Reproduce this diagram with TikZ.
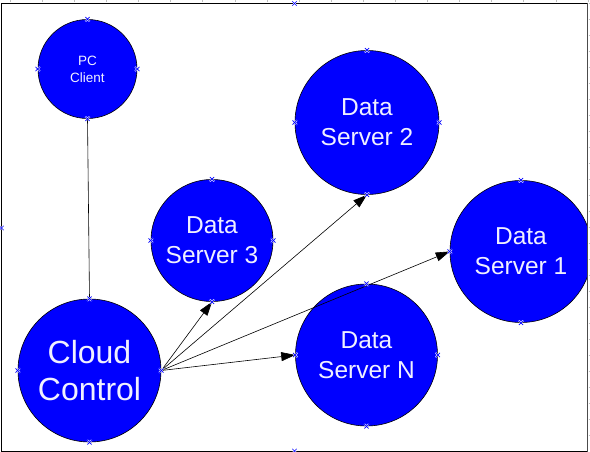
\documentclass[tikz,border=0pt]{standalone}
\usepackage{fontspec}
\setmainfont{Liberation Sans}
\usetikzlibrary{arrows.meta,calc}
\definecolor{nodeblue}{RGB}{0,0,255}
\definecolor{txt}{RGB}{240,240,255}
\tikzset{
  srv/.style={circle, draw=black, line width=0.6pt, fill=nodeblue, text=txt, inner sep=0pt, align=center},
  conn/.style={line width=0.6pt, draw=black},
  arr/.style={conn, -{Triangle[length=14pt,width=9pt]}},
  cpt/.style={draw=blue, line width=0.7pt},
  tick/.style={draw=black!25, line width=0.4pt}
}
\newcommand{\cmark}[1]{\draw[white, line width=1.6pt] ($(#1)+(-2.2,-2.2)$) -- ($(#1)+(2.2,2.2)$) ($(#1)+(-2.2,2.2)$) -- ($(#1)+(2.2,-2.2)$);
  \draw[cpt] ($(#1)+(-2.2,-2.2)$) -- ($(#1)+(2.2,2.2)$) ($(#1)+(-2.2,2.2)$) -- ($(#1)+(2.2,-2.2)$);}
\begin{document}
\begin{tikzpicture}[x=1pt,y=-1pt]
\useasboundingbox (0,0) rectangle (590,452);
\fill[white] (0,0) rectangle (590,452);
% ruler ticks
\foreach \i in {0,...,18} { \draw[tick] (10+32.1*\i,0) -- (10+32.1*\i,2.2); }
% frame
\coordinate (ftl) at (1.5,3.5);
\coordinate (ftr) at (587.5,3.5);
\coordinate (fbl) at (1.5,451);
\coordinate (fbr) at (587.5,451);
\draw[line width=0.9pt] (ftr) -- (ftl) -- (fbl) -- (fbr);

% nodes
\node[srv, minimum size=99pt, font=\fontsize{13.5}{17}\selectfont] (pc) at (87.5,69) {PC\\Client};
\node[srv, minimum size=144pt, font=\fontsize{24.5}{30}\selectfont] (ds2) at (367,122.5) {Data\\Server 2};
\node[srv, minimum size=122pt, font=\fontsize{24.5}{30}\selectfont] (ds3) at (212,240.5) {Data\\Server 3};
\node[srv, minimum size=142pt, font=\fontsize{24.5}{30}\selectfont] (ds1) at (521,251.5) {Data\\Server 1};
\node[srv, minimum size=142pt, font=\fontsize{24.5}{30}\selectfont] (dsn) at (366.5,355) {Data\\Server N};
\node[srv, minimum size=143pt, font=\fontsize{32}{37}\selectfont] (cc) at (89.5,370.5) {Cloud\\Control};

% right edge drawn over Data Server 1
\fill[white] (588.2,3) rectangle (590,452);
\foreach \i in {0,...,27} { \draw[tick] (588.5,3+16*\i) -- (590,3+16*\i); }
\draw[black!70, line width=1.4pt] (587.5,3) -- (587.5,452);

% connectors
\draw[conn] (pc.south) -- (cc.north);
\draw[arr] (cc.east) -- (ds3.south);
\draw[arr] (cc.east) -- (ds2.south);
\draw[arr] (cc.east) -- (ds1.west);
\draw[arr] (cc.east) -- (dsn.west);

% connection point markers
\foreach \n in {pc,ds2,ds3,ds1,dsn,cc} {
  \cmark{\n.north} \cmark{\n.south} \cmark{\n.west}
}
\foreach \n in {pc,ds2,ds3,dsn,cc} { \cmark{\n.east} }
\coordinate (fm1) at (294.5,3.5);
\coordinate (fm2) at (1.5,228);
\coordinate (fm3) at (294.5,451);
\cmark{fm1} \cmark{fm2} \cmark{fm3}
\end{tikzpicture}
\end{document}
